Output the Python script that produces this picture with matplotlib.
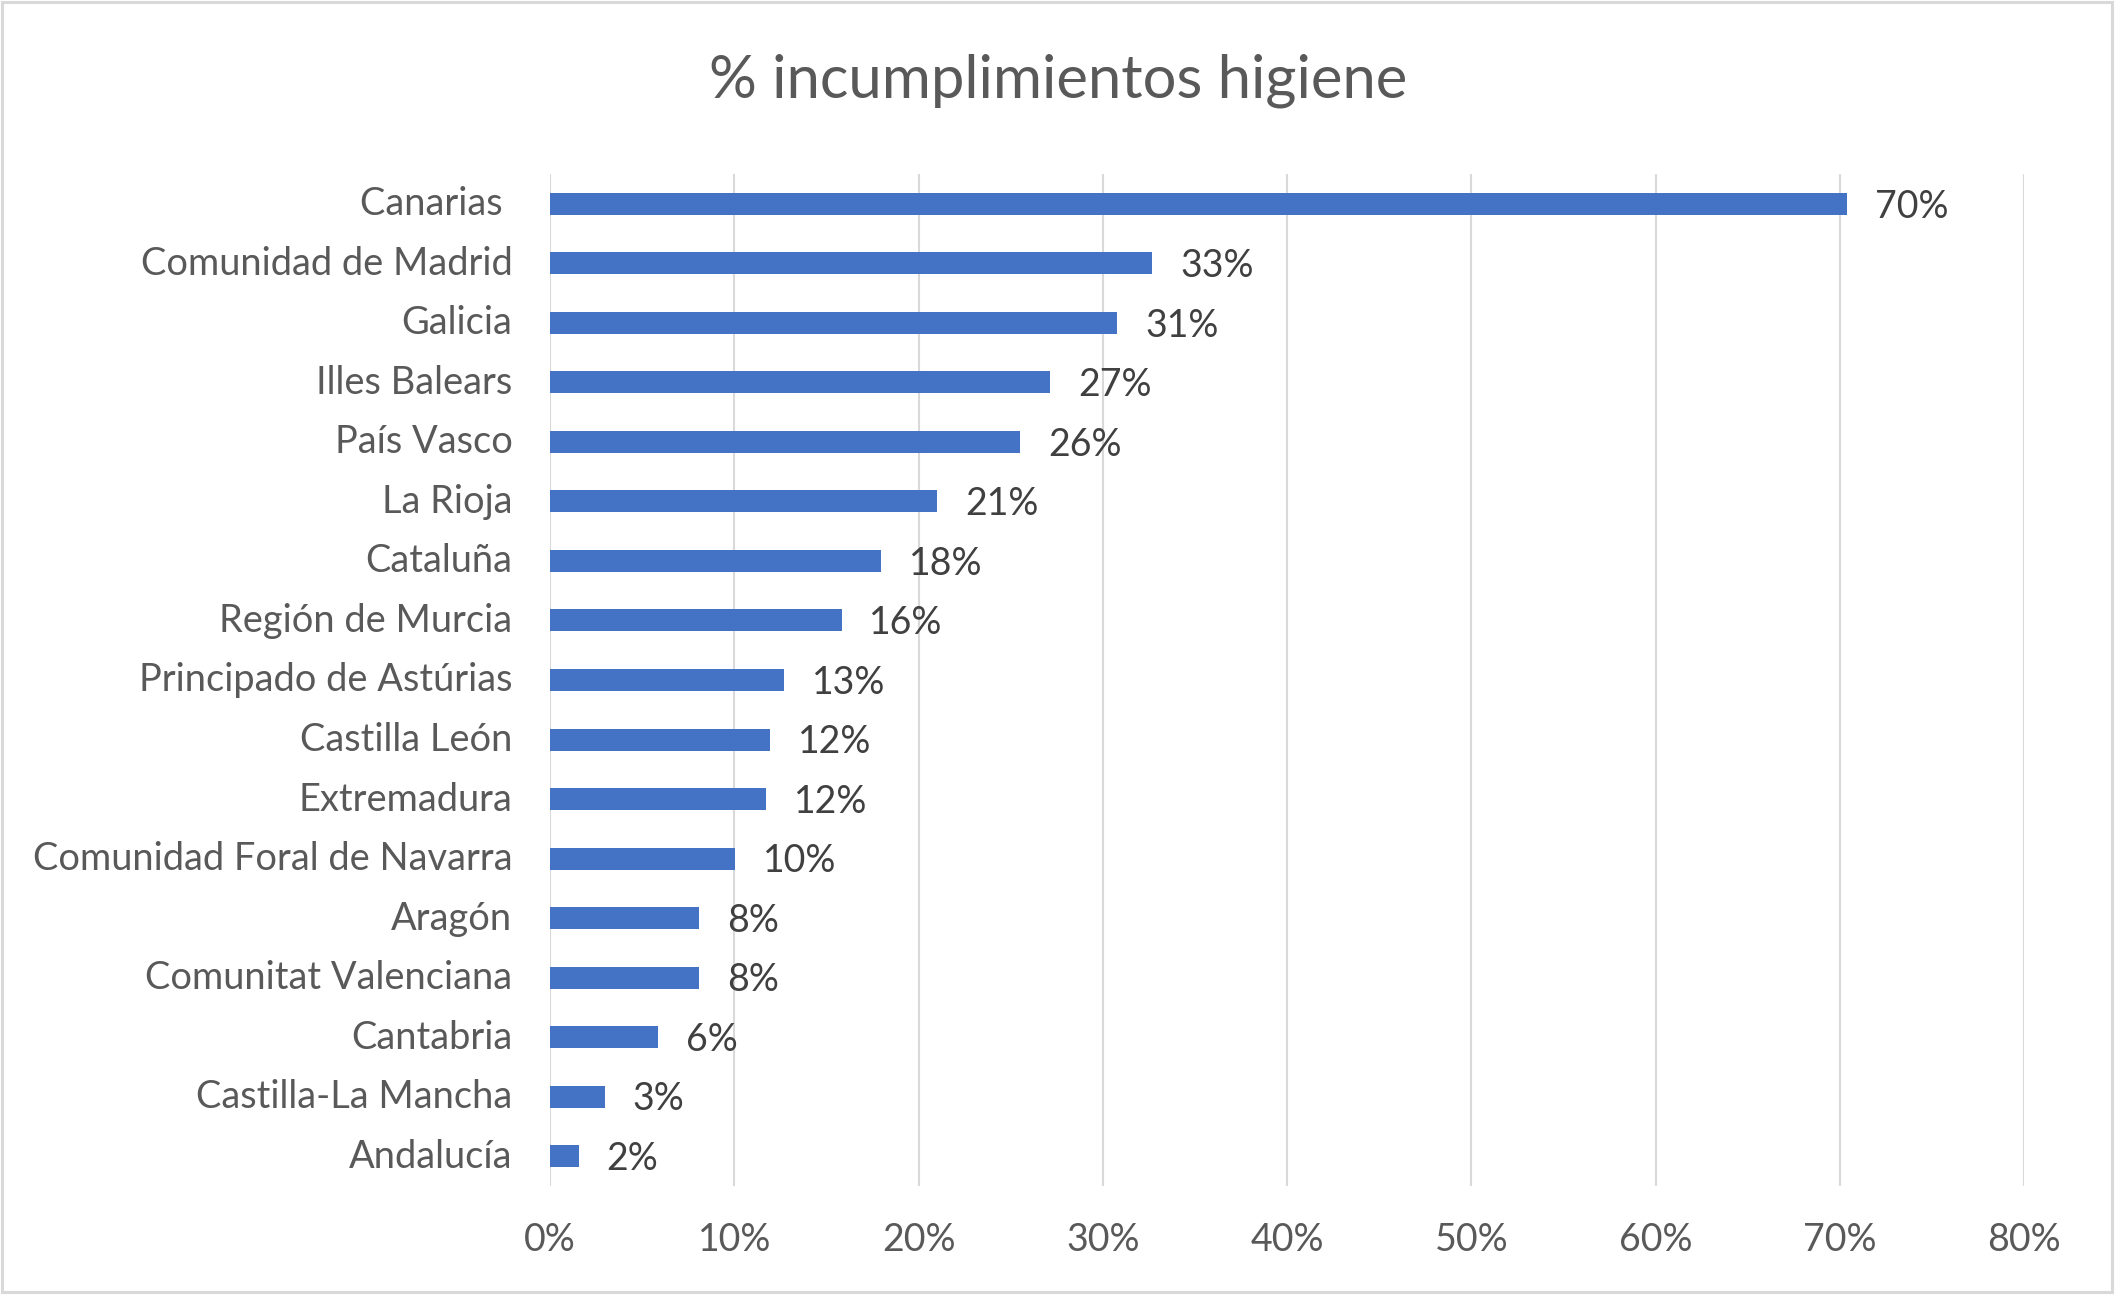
import matplotlib
matplotlib.use("Agg")
import matplotlib.pyplot as plt
from matplotlib.patches import Rectangle
from matplotlib.transforms import ScaledTranslation

plt.rcParams['font.family'] = ['Lato', 'DejaVu Sans']

categories = ["Canarias ", "Comunidad de Madrid", "Galicia", "Illes Balears", "País Vasco",
              "La Rioja", "Cataluña", "Región de Murcia", "Principado de Astúrias",
              "Castilla León", "Extremadura", "Comunidad Foral de Navarra", "Aragón",
              "Comunitat Valenciana", "Cantabria", "Castilla-La Mancha", "Andalucía"]
values = [0.704, 0.327, 0.308, 0.2715, 0.2553, 0.2103, 0.1796, 0.1583, 0.1269,
          0.1194, 0.1172, 0.1004, 0.0808, 0.0808, 0.0585, 0.0297, 0.0156]
xticks = [0, 0.1, 0.2, 0.3, 0.4, 0.5, 0.6, 0.7, 0.8]
xticklabels = ["0%", "10%", "20%", "30%", "40%", "50%", "60%", "70%", "80%"]
title = "% incumplimientos higiene"

W, H = 2122, 1301
fig = plt.figure(figsize=(W / 100, H / 100), dpi=100)
fig.patch.set_facecolor("white")

ax = fig.add_axes([550 / W, 1 - 1186 / H, (2024 - 550) / W, (1186 - 174) / H])
y = list(range(len(categories)))
ax.barh(y, values, height=0.37, color="#4472C4", zorder=3)
ax.set_xlim(0, 0.8)
ax.set_ylim(len(categories) - 0.5, -0.5)
ax.set_xticks(xticks)
ax.set_xticklabels(xticklabels)
ax.set_yticks(y)
ax.set_yticklabels(categories)
for s in ax.spines.values():
    s.set_visible(False)
ax.grid(axis="x", color="#D9D9D9", linewidth=1.5, zorder=0)
ax.tick_params(axis="both", length=0, labelsize=27, labelcolor="#595959")
ax.tick_params(axis="y", labelsize=27.4)
ax.tick_params(axis="x", pad=26)
ax.tick_params(axis="y", pad=27)
shift = ScaledTranslation(0, 2.2 / 72, fig.dpi_scale_trans)
for lbl in ax.get_yticklabels():
    lbl.set_transform(lbl.get_transform() + shift)

for yi, v in zip(y, values):
    ax.annotate(f"{round(v * 100):.0f}%", xy=(v, yi), xytext=(20, -2),
                textcoords="offset points", va="center", ha="left",
                fontsize=27, color="#404040")

fig.text(0.5 * (708 + 1409) / W, 1 - 81 / H, title, ha="center", va="center",
         fontsize=43, color="#595959")

fig.patches.append(Rectangle((2 / W, 1 - 1292 / H), (2112 - 2) / W, (1292 - 2) / H,
                             transform=fig.transFigure, fill=False,
                             edgecolor="#D9D9D9", linewidth=2.2))

fig.savefig("out.png", dpi=100)
